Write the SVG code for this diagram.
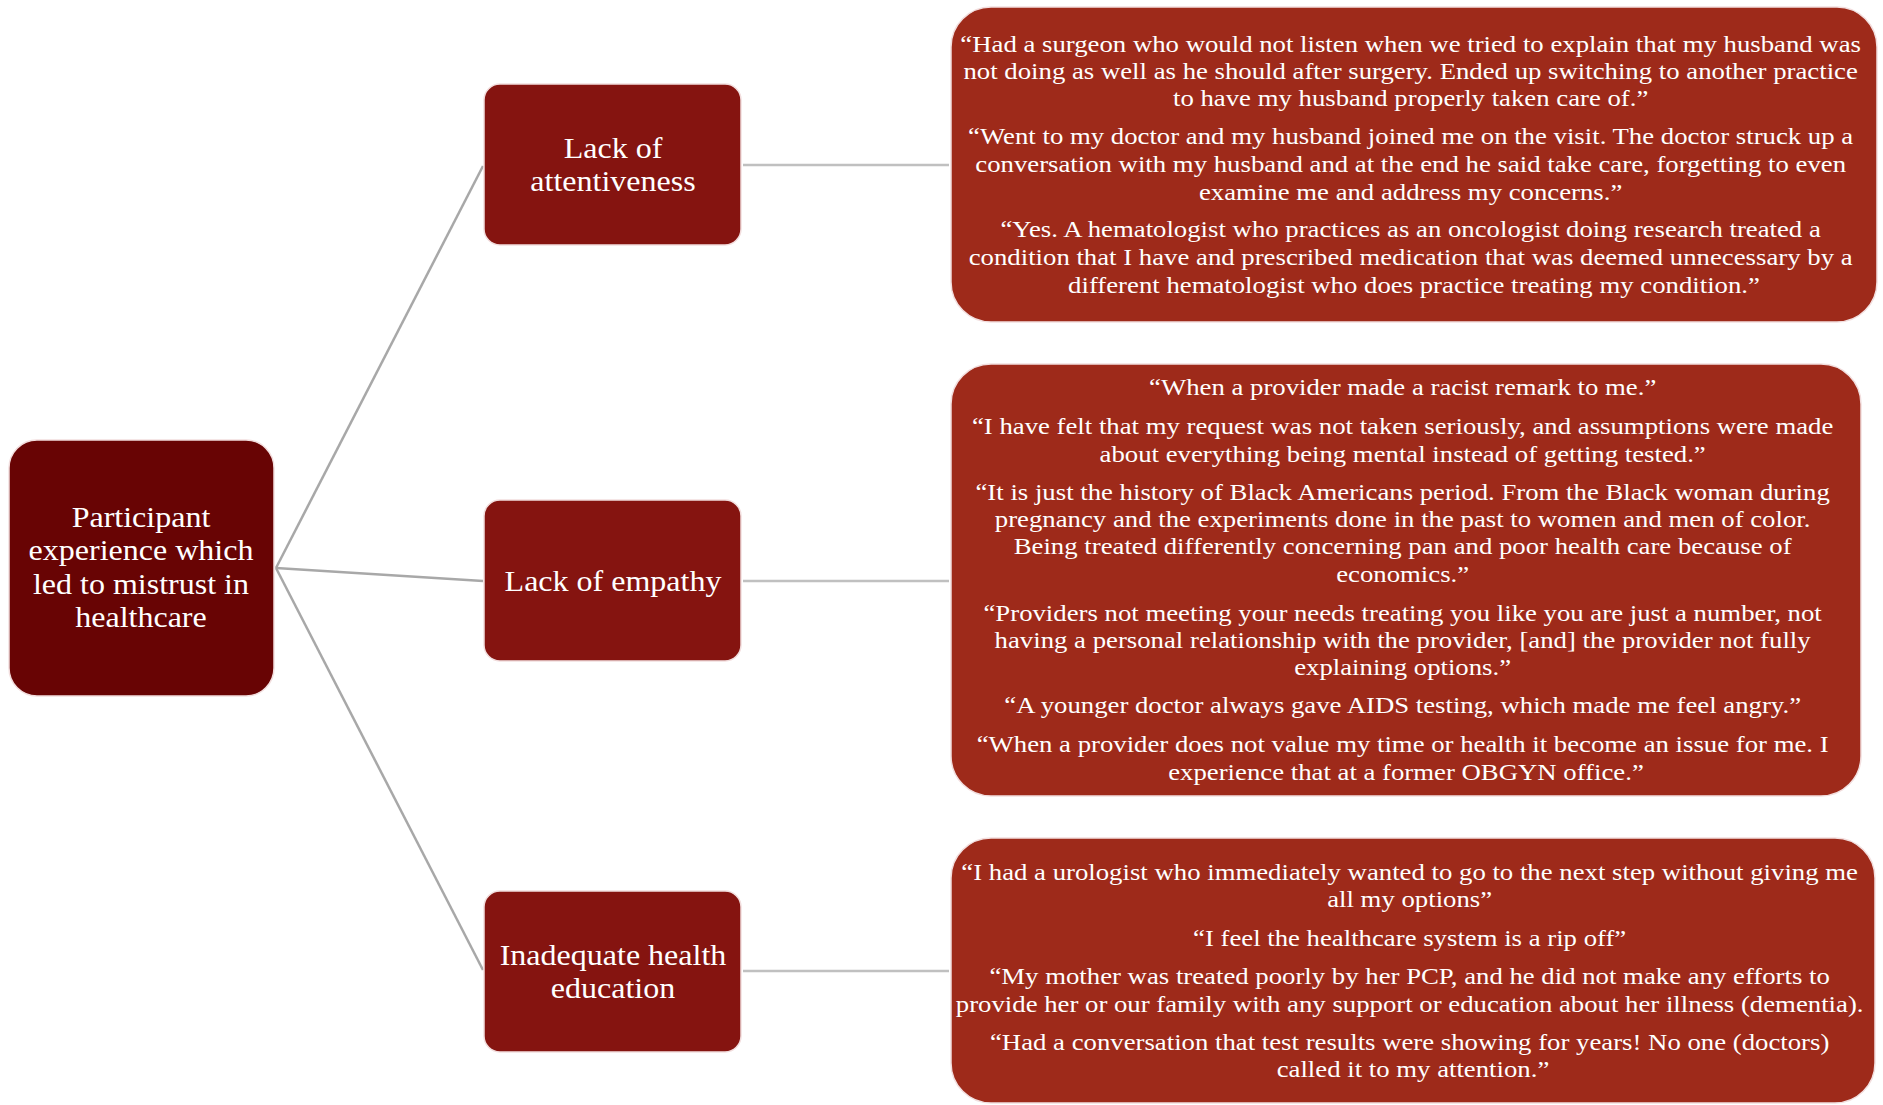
<svg xmlns="http://www.w3.org/2000/svg" width="1883" height="1105" viewBox="0 0 1883 1105">
<style>
.root{fill:#680404;stroke:#f2dede;stroke-width:1.5}
.cat{fill:#851410;stroke:#f2dede;stroke-width:1.5}
.quote{fill:#9e2a1a;stroke:#f2dede;stroke-width:1.5}
.t{font-family:"Liberation Serif","Times New Roman",serif;fill:#ffffff;text-anchor:middle}
.big{font-size:30px}
.q{font-size:24px}
.conn line{stroke:#a8a8a8;stroke-width:2.5;fill:none}
.conn line.h{stroke:#c0c0c0}
</style>
<rect width="1883" height="1105" fill="#ffffff"/>
<g id="connectors" class="conn">
<line x1="276" y1="568" x2="483" y2="166"/>
<line x1="276" y1="568" x2="483" y2="581"/>
<line x1="276" y1="568" x2="483" y2="970"/>
<line class="h" x1="743" y1="165" x2="949" y2="165"/>
<line class="h" x1="743" y1="581" x2="949" y2="581"/>
<line class="h" x1="743" y1="971" x2="949" y2="971"/>
</g>
<g id="root">
<rect class="root" x="9" y="440" width="265" height="256" rx="28"/>
<text class="t big" transform="matrix(1.067,0,0,1,-9.45,0)"><tspan x="141" y="527">Participant</tspan><tspan x="141" y="560">experience which</tspan><tspan x="141" y="594">led to mistrust in</tspan><tspan x="141" y="627">healthcare</tspan></text>
</g>
<g id="cat-attentiveness">
<rect class="cat" x="484" y="84" width="257" height="161" rx="16"/>
<text class="t big" transform="matrix(1.067,0,0,1,-41.07,0)"><tspan x="613" y="158">Lack of</tspan><tspan x="613" y="191">attentiveness</tspan></text>
</g>
<g id="cat-empathy">
<rect class="cat" x="484" y="500" width="257" height="161" rx="16"/>
<text class="t big" transform="matrix(1.067,0,0,1,-41.07,0)"><tspan x="613" y="591">Lack of empathy</tspan></text>
</g>
<g id="cat-education">
<rect class="cat" x="484" y="891" width="257" height="161" rx="16"/>
<text class="t big" transform="matrix(1.067,0,0,1,-41.07,0)"><tspan x="613" y="965">Inadequate health</tspan><tspan x="613" y="998">education</tspan></text>
</g>
<g id="quotes-attentiveness">
<rect class="quote" x="951" y="7" width="926" height="315" rx="40"/>
<text class="t q" transform="matrix(1.115,0,0,1,-162.6,0)">
<tspan x="1414" y="52">“Had a surgeon who would not listen when we tried to explain that my husband was</tspan>
<tspan x="1414" y="79">not doing as well as he should after surgery. Ended up switching to another practice</tspan>
<tspan x="1414" y="106">to have my husband properly taken care of.”</tspan>
<tspan x="1414" y="144">“Went to my doctor and my husband joined me on the visit. The doctor struck up a</tspan>
<tspan x="1414" y="172">conversation with my husband and at the end he said take care, forgetting to even</tspan>
<tspan x="1414" y="200">examine me and address my concerns.”</tspan>
<tspan x="1414" y="237">“Yes. A hematologist who practices as an oncologist doing research treated a</tspan>
<tspan x="1414" y="265">condition that I have and prescribed medication that was deemed unnecessary by a</tspan>
<tspan x="1414" y="293">different hematologist who does practice treating my condition.”</tspan>
</text>
</g>
<g id="quotes-empathy">
<rect class="quote" x="951" y="364" width="910" height="432" rx="40"/>
<text class="t q" transform="matrix(1.115,0,0,1,-161.7,0)">
<tspan x="1406" y="395">“When a provider made a racist remark to me.”</tspan>
<tspan x="1406" y="434">“I have felt that my request was not taken seriously, and assumptions were made</tspan>
<tspan x="1406" y="462">about everything being mental instead of getting tested.”</tspan>
<tspan x="1406" y="500">“It is just the history of Black Americans period. From the Black woman during</tspan>
<tspan x="1406" y="527">pregnancy and the experiments done in the past to women and men of color.</tspan>
<tspan x="1406" y="554">Being treated differently concerning pan and poor health care because of</tspan>
<tspan x="1406" y="582">economics.”</tspan>
<tspan x="1406" y="621">“Providers not meeting your needs treating you like you are just a number, not</tspan>
<tspan x="1406" y="648">having a personal relationship with the provider, [and] the provider not fully</tspan>
<tspan x="1406" y="675">explaining options.”</tspan>
<tspan x="1406" y="713">“A younger doctor always gave AIDS testing, which made me feel angry.”</tspan>
<tspan x="1406" y="752">“When a provider does not value my time or health it become an issue for me. I</tspan>
<tspan x="1406" y="780">experience that at a former OBGYN office.”</tspan>
</text>
</g>
<g id="quotes-education">
<rect class="quote" x="951" y="838" width="924" height="265" rx="40"/>
<text class="t q" transform="matrix(1.115,0,0,1,-162.5,0)">
<tspan x="1413" y="880">“I had a urologist who immediately wanted to go to the next step without giving me</tspan>
<tspan x="1413" y="907">all my options”</tspan>
<tspan x="1413" y="946">“I feel the healthcare system is a rip off”</tspan>
<tspan x="1413" y="984">“My mother was treated poorly by her PCP, and he did not make any efforts to</tspan>
<tspan x="1413" y="1012">provide her or our family with any support or education about her illness (dementia).</tspan>
<tspan x="1413" y="1050">“Had a conversation that test results were showing for years! No one (doctors)</tspan>
<tspan x="1413" y="1077">called it to my attention.”</tspan>
</text>
</g>
</svg>
